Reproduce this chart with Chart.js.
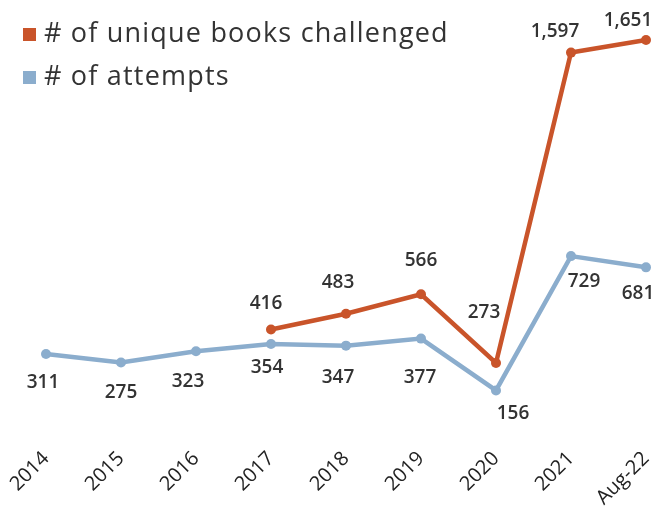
<!DOCTYPE html>
<html>
<head>
<meta charset="utf-8">
<script src="https://cdn.jsdelivr.net/npm/chart.js@4"></script>
<style>
  html, body { margin: 0; padding: 0; background: #fff; }
  #wrap { position: relative; width: 672px; height: 516px; }
  .legend { position: absolute; left: 23px; font-family: "Open Sans", sans-serif; font-size: 27px; letter-spacing: 1.2px; color: #333; line-height: 30px; }
  .legend span.box { display: inline-block; width: 13px; height: 13px; margin-right: 8px; vertical-align: 1px; }
</style>
</head>
<body>
<div id="wrap">
  <canvas id="chart" width="672" height="516"></canvas>
  <div class="legend" style="top: 17px;"><span class="box" style="background:#C9542A"></span># of unique books challenged</div>
  <div class="legend" style="top: 60px;"><span class="box" style="background:#8BADCD"></span># of attempts</div>
</div>
<script>
var categories = ['2014', '2015', '2016', '2017', '2018', '2019', '2020', '2021', 'Aug-22']
var uniqueBooks = [null, null, null, 416, 483, 566, 273, 1597, 1651]
var attempts = [311, 275, 323, 354, 347, 377, 156, 729, 681]

// label offsets from each point (px)
var bookLabelOffsets = [null, null, null, [-5, -26], [-8, -31], [0, -34], [-12, -50], [-16, -21], [-18, -19]]
var attemptLabelOffsets = [[-3, 29], [0, 30], [-8, 30], [-4, 24], [-8, 32], [-1, 39], [17, 23], [13, 26], [-8, 26]]

var orange = '#C9542A'
var blue = '#8BADCD'

var valueLabels = {
  id: 'valueLabels',
  afterDatasetsDraw: function (chart) {
    var ctx = chart.ctx
    var offsets = [bookLabelOffsets, attemptLabelOffsets]
    ctx.save()
    ctx.font = '600 19px "Open Sans"'
    ctx.fillStyle = '#333'
    ctx.textAlign = 'center'
    ctx.textBaseline = 'middle'
    chart.data.datasets.forEach(function (ds, di) {
      var meta = chart.getDatasetMeta(di)
      ds.data.forEach(function (v, i) {
        if (v === null) return
        var pt = meta.data[i]
        var off = offsets[di][i]
        ctx.fillText(v.toLocaleString('en-US'), pt.x + off[0], pt.y + off[1])
      })
    })
    ctx.restore()
  }
}

var ctx = document.getElementById('chart').getContext('2d')
new Chart(ctx, {
  type: 'line',
  data: {
    labels: categories,
    datasets: [
      {
        label: '# of unique books challenged',
        data: uniqueBooks,
        borderColor: orange,
        backgroundColor: orange,
        borderWidth: 4.5,
        pointRadius: 5,
        pointBorderWidth: 0,
        pointBackgroundColor: orange,
        clip: false
      },
      {
        label: '# of attempts',
        data: attempts,
        borderColor: blue,
        backgroundColor: blue,
        borderWidth: 4.5,
        pointRadius: 5,
        pointBorderWidth: 0,
        pointBackgroundColor: blue,
        clip: false
      }
    ]
  },
  options: {
    responsive: false,
    animation: false,
    layout: {
      padding: { top: 3, left: 46, right: 26, bottom: 0 }
    },
    scales: {
      x: {
        offset: false,
        grid: { display: false, drawTicks: false },
        border: { display: false },
        ticks: {
          minRotation: 45,
          maxRotation: 45,
          padding: 20,
          color: '#222',
          font: { family: 'Open Sans', size: 20 }
        },
        afterFit: function (scale) {
          scale.height = 89
          scale.paddingLeft = 0
          scale.paddingRight = 0
        }
      },
      y: {
        display: false,
        min: 0,
        max: 1800
      }
    },
    plugins: {
      legend: { display: false },
      tooltip: { enabled: false }
    }
  },
  plugins: [valueLabels]
})
</script>
</body>
</html>
